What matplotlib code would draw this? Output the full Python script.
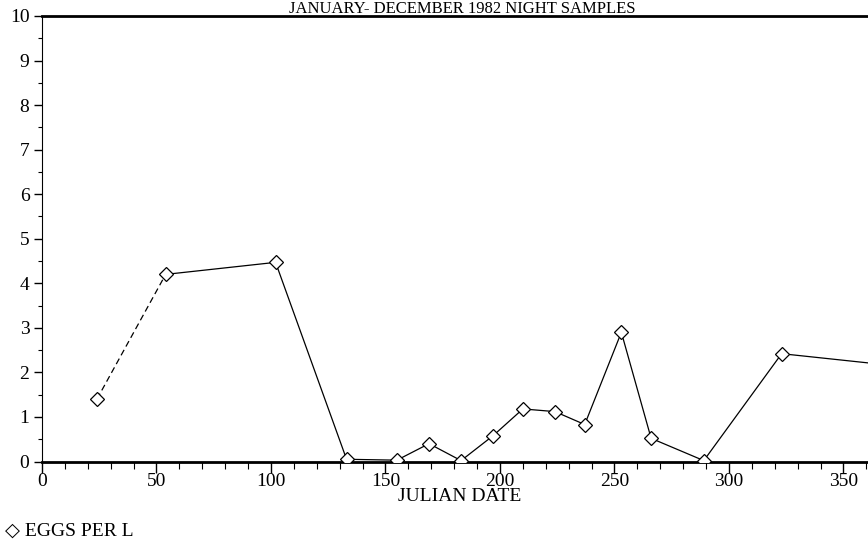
#!/usr/bin/env python3
"""
Eggs per L vs Julian date, Jan-Dec night samples
"""
import numpy as np
import matplotlib.pyplot as plt
from matplotlib.ticker import MultipleLocator

# values
julian_date = [24, 54, 102, 133, 155, 169, 183, 197, 210, 224, 237, 253, 266, 289, 323, 365]
eggs_per_l = [1.4, 4.2, 4.47, 0.05, 0.03, 0.4, 0.02, 0.58, 1.18, 1.12, 0.83, 2.9, 0.52, 0.02, 2.42, 2.19]

title = 'JANUARY- DECEMBER 1982 NIGHT SAMPLES'
xlabel = 'JULIAN DATE'
legend_label = 'EGGS PER L'
xticks = [0, 50, 100, 150, 200, 250, 300, 350]
yticks = list(range(0, 11))

plt.rcParams['font.family'] = ['Liberation Serif', 'DejaVu Serif']

fig = plt.figure(figsize=(8.68, 5.45), dpi=100, facecolor='white')
ax = fig.add_axes([42 / 868, 1 - 461.5 / 545, 1 - 42 / 868 + 0.01, (461.5 - 16) / 545])

# first segment looks broken/dashed in the scan
ax.plot(julian_date[:2], eggs_per_l[:2], '--', color='black', linewidth=0.9, dashes=(5, 3))
ax.plot(julian_date[1:], eggs_per_l[1:], '-', color='black', linewidth=0.9)
ax.plot(julian_date, eggs_per_l, 'D', color='black', markersize=7, markerfacecolor='white',
        markeredgewidth=0.9, zorder=5)

ax.set_xlim(0, 364.5)
ax.set_ylim(0, 10)

ax.set_xticks(xticks)
ax.set_yticks(yticks)
ax.xaxis.set_minor_locator(MultipleLocator(10))
ax.yaxis.set_minor_locator(MultipleLocator(0.5))
ax.tick_params(axis='both', which='major', direction='out', width=1, labelsize=14)
ax.tick_params(axis='both', which='minor', direction='out', width=0.8)
ax.tick_params(axis='x', which='major', length=8, pad=0)
ax.tick_params(axis='x', which='minor', length=5)
ax.tick_params(axis='y', which='major', length=6, pad=3)
ax.tick_params(axis='y', which='minor', length=3)

ax.spines['right'].set_visible(False)
ax.spines['top'].set_linewidth(2)
ax.spines['bottom'].set_linewidth(2)
ax.spines['left'].set_linewidth(0.8)

ax.set_xlabel(xlabel, fontsize=14, labelpad=-1)

fig.text(462 / 868, 1 - 17 / 545, title, ha='center', va='bottom', fontsize=12)
fig.text(5 / 868, 1 - 531 / 545, '\u25c7 ' + legend_label, ha='left', va='center', fontsize=14,
         family=['Liberation Serif', 'DejaVu Sans'])

plt.savefig('out.png', dpi=100, facecolor='white')
plt.close()
